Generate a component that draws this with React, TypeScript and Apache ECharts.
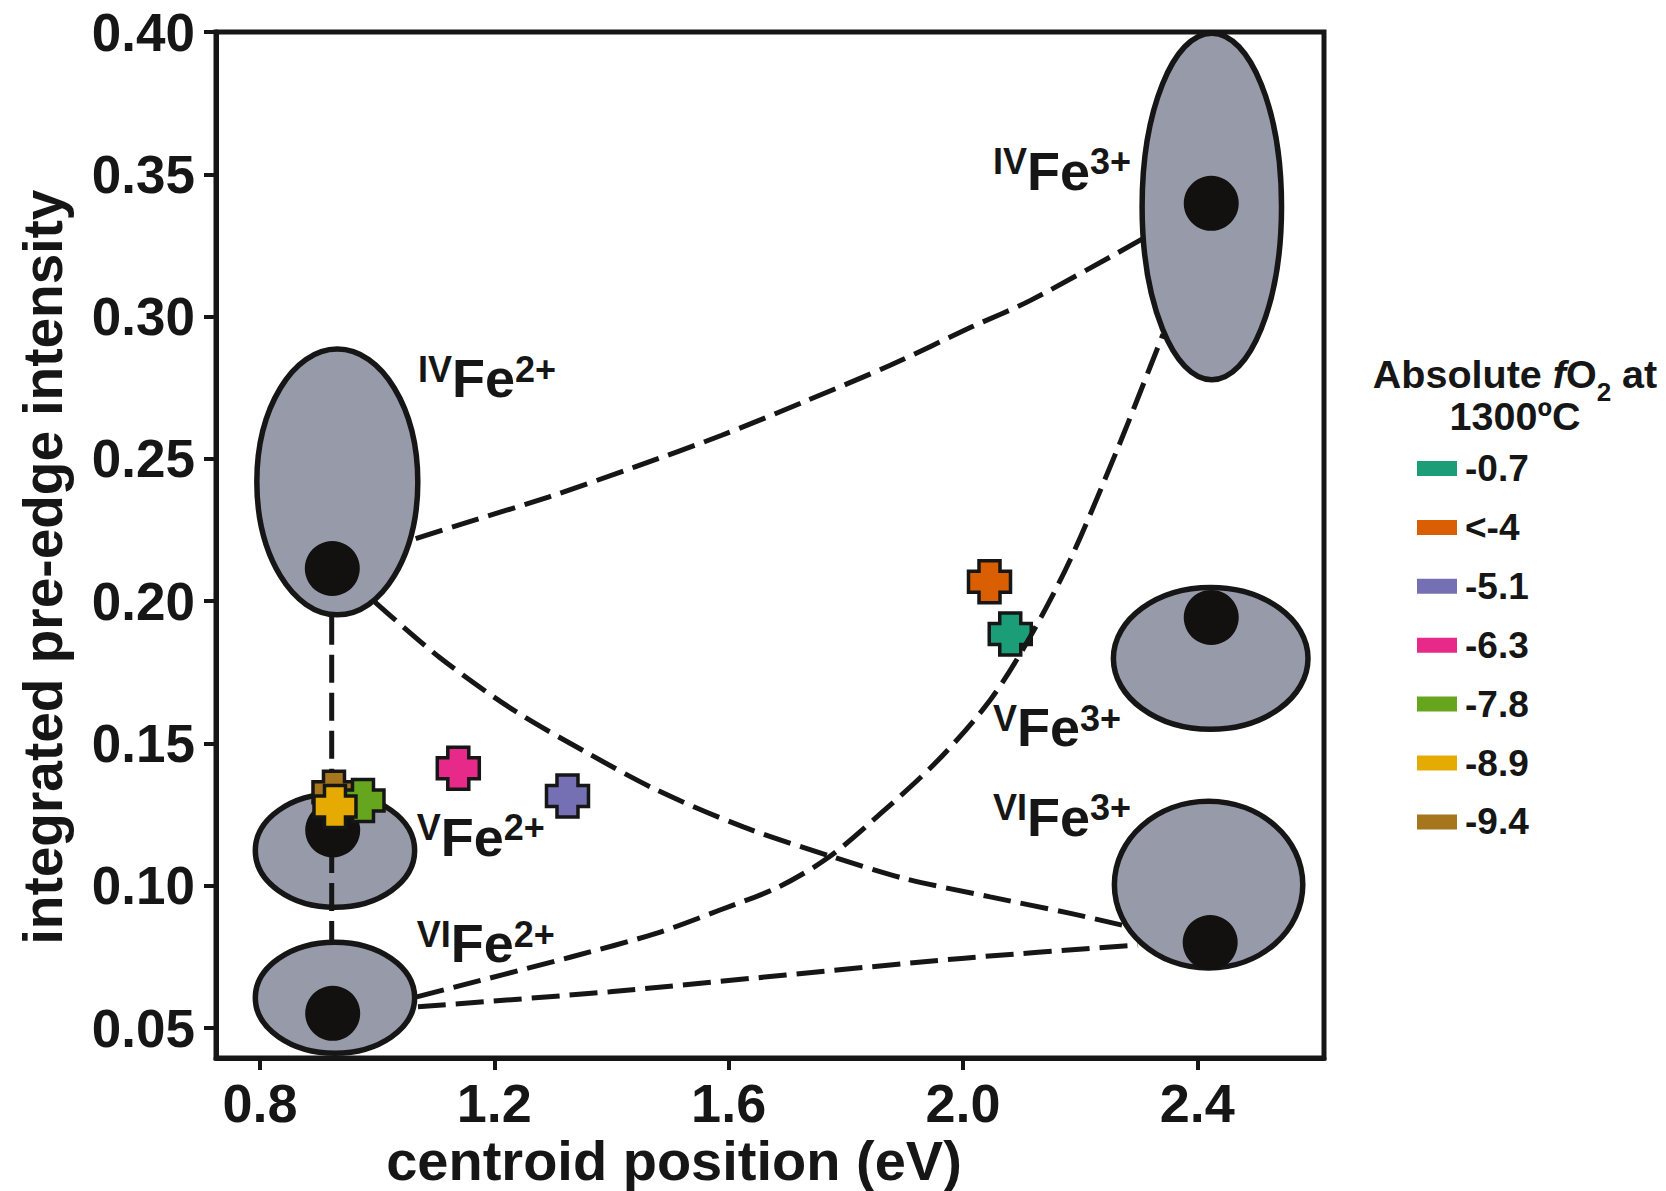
import React, { useEffect, useRef } from 'react';
import * as echarts from 'echarts';

const FONT = '"Liberation Sans", Arial, Helvetica, sans-serif';
const INK = '#161616';
const FIELD = '#979aa9';

// Axes
const xTicks = [0.8, 1.2, 1.6, 2.0, 2.4];
const yTicks = [0.05, 0.1, 0.15, 0.2, 0.25, 0.3, 0.35, 0.4];
const xRange = [0.7249, 2.6163];
const yRange = [0.0395, 0.4];

// Reference Fe sites (fields drawn as ellipses in data units)
const siteNames = ['IVFe2+', 'VFe2+', 'VIFe2+', 'IVFe3+', 'VFe3+', 'VIFe3+'];
const siteCoordination = ['IV', 'V', 'VI', 'IV', 'V', 'VI'];
const siteCharge = ['2+', '2+', '2+', '3+', '3+', '3+'];
const fieldCenterX = [0.932, 0.928, 0.928, 2.4248, 2.4229, 2.4193];
const fieldCenterY = [0.2419, 0.1124, 0.0607, 0.3387, 0.1799, 0.1004];
const fieldRadiusX = [0.1374, 0.136, 0.136, 0.119, 0.1661, 0.1608];
const fieldRadiusY = [0.0467, 0.01995, 0.0195, 0.0609, 0.0249, 0.0293];
const centroidX = [0.9234, 0.9241, 0.9241, 2.4238, 2.4238, 2.422];
const centroidY = [0.2115, 0.1196, 0.0552, 0.3398, 0.1943, 0.0801];
const labelX = [1.0697, 1.0675, 1.0675, 2.0513, 2.0513, 2.0513];
const labelY = [0.2783, 0.1172, 0.0799, 0.3512, 0.1558, 0.1242];

// Dashed mixing curves [centroid, intensity]
const curveIV2toIV3 = [
  [1.0658, 0.222], [1.1441, 0.2271], [1.2923, 0.2366], [1.4402, 0.2472], [1.5883, 0.2583],
  [1.7278, 0.27], [1.8758, 0.2829], [2.0151, 0.2964], [2.1153, 0.3057], [2.3056, 0.3272],
];
const curveIV2toVI3 = [
  [0.9963, 0.1997], [1.1056, 0.1804], [1.2331, 0.1617], [1.3604, 0.1465], [1.478, 0.1336],
  [1.625, 0.1207], [1.777, 0.1102], [1.8994, 0.1026], [2.0465, 0.0961], [2.1836, 0.0903], [2.2715, 0.0862],
];
const curveIV2toVI2 = [[0.9224, 0.1945], [0.9224, 0.0809]];
const curveVI2toIV3 = [
  [1.0675, 0.061], [1.3309, 0.075], [1.4777, 0.0834], [1.5852, 0.0915], [1.6843, 0.0995],
  [1.7713, 0.1101], [1.8601, 0.1255], [1.9574, 0.1441], [2.0462, 0.1652], [2.1144, 0.1874],
  [2.1827, 0.2144], [2.263, 0.2531], [2.3193, 0.2822], [2.3415, 0.2938],
];
const curveVI2toVI3 = [[1.0697, 0.0575], [1.3975, 0.0628], [1.9975, 0.0745], [2.2988, 0.0792]];

// Samples
const fO2Labels = ['-0.7', '<-4', '-5.1', '-6.3', '-7.8', '-8.9', '-9.4'];
const fO2Colors = ['#1b9e77', '#d95f02', '#7570b3', '#e7298a', '#66a61e', '#e6ab02', '#a6761d'];
const sampleCentroid = [2.0807, 2.0453, 1.3249, 1.1385, 0.9758, 0.928, 0.9263];
const sampleIntensity = [0.1885, 0.2068, 0.1316, 0.1413, 0.13, 0.1279, 0.1329];
const sampleLayer = [2, 6, 6, 6, 7, 8, 6];

const CROSS = 'path://M1,0H3V1H4V3H3V4H1V3H0V1H1Z';

function buildOption(): any {
  const curves = [
    { name: 'IVFe2+ - IVFe3+', data: curveIV2toIV3 },
    { name: 'IVFe2+ - VIFe3+', data: curveIV2toVI3 },
    { name: 'IVFe2+ - VIFe2+', data: curveIV2toVI2 },
    { name: 'VIFe2+ - IVFe3+', data: curveVI2toIV3 },
    { name: 'VIFe2+ - VIFe3+', data: curveVI2toVI3 },
  ];
  const axisText = { color: INK, fontFamily: FONT, fontWeight: 'bold' };
  return {
    animation: false,
    backgroundColor: '#ffffff',
    grid: {
      left: 216, right: 342, top: 32, bottom: 133,
      show: true, borderColor: INK, borderWidth: 5, backgroundColor: 'transparent',
    },
    xAxis: {
      type: 'value', min: xRange[0], max: xRange[1],
      axisLine: { show: true, lineStyle: { color: INK, width: 5 } },
      axisTick: { show: true, customValues: xTicks, length: 12, lineStyle: { color: INK, width: 4 } },
      axisLabel: { customValues: xTicks, formatter: (v: number) => v.toFixed(1), fontSize: 54, margin: 18, ...axisText },
      splitLine: { show: false },
    },
    yAxis: {
      type: 'value', min: yRange[0], max: yRange[1],
      axisLine: { show: true, lineStyle: { color: INK, width: 5 } },
      axisTick: { show: true, customValues: yTicks, length: 12, lineStyle: { color: INK, width: 4 } },
      axisLabel: { customValues: yTicks, formatter: (v: number) => v.toFixed(2), fontSize: 53, margin: 21, ...axisText },
      splitLine: { show: false },
    },
    legend: {
      orient: 'vertical', left: 1417, top: 450, padding: 0,
      itemWidth: 40, itemHeight: 15, itemGap: 21.9,
      selectedMode: false,
      icon: 'rect',
      itemStyle: { borderWidth: 0, opacity: 1 },
      data: fO2Labels.map((n) => ({ name: n, icon: 'rect' })),
      textStyle: { fontSize: 37, ...axisText, padding: [0, 0, 0, 3] },
    },
    graphic: [
      {
        type: 'text', x: 674, y: 1160, silent: true,
        style: { text: 'centroid position (eV)', fill: INK, fontSize: 56, fontWeight: 'bold', fontFamily: FONT, align: 'center', verticalAlign: 'middle' },
      },
      {
        type: 'text', x: 43, y: 567, rotation: Math.PI / 2, silent: true,
        style: { text: 'integrated pre-edge intensity', fill: INK, fontSize: 55, fontWeight: 'bold', fontFamily: FONT, align: 'center', verticalAlign: 'middle' },
      },
      {
        type: 'text', x: 1515, y: 354, silent: true,
        style: {
          text: '{a|Absolute }{i|f}{a|O}{s|2}{a| at}', fill: INK, align: 'center', verticalAlign: 'top',
          rich: {
            a: { fontSize: 39.5, fontWeight: 'bold', fontFamily: FONT, fill: INK, lineHeight: 40 },
            i: { fontSize: 39.5, fontWeight: 'bold', fontStyle: 'italic', fontFamily: FONT, fill: INK, lineHeight: 40 },
            s: { fontSize: 26, fontWeight: 'bold', fontFamily: FONT, fill: INK, lineHeight: 24, verticalAlign: 'top', padding: [25, 0, 0, 0] },
          },
        },
      },
      {
        type: 'text', x: 1515, y: 416, silent: true,
        style: { text: '1300ºC', fill: INK, fontSize: 39.5, fontWeight: 'bold', fontFamily: FONT, align: 'center', verticalAlign: 'middle' },
      },
    ],
    series: [
      {
        type: 'custom', name: 'fields', z: 1, silent: true, clip: false,
        data: siteNames.map((_, i) => [fieldCenterX[i], fieldCenterY[i], fieldRadiusX[i], fieldRadiusY[i]]),
        encode: { x: 0, y: 1 },
        renderItem: (_p: any, api: any) => {
          const c = api.coord([api.value(0), api.value(1)]);
          const s = api.size([api.value(2), api.value(3)]);
          return {
            type: 'ellipse',
            shape: { cx: c[0], cy: c[1], rx: s[0], ry: s[1] },
            style: { fill: FIELD, stroke: INK, lineWidth: 5.5 },
          };
        },
      },
      ...curves.map((c) => ({
        type: 'line', name: c.name, data: c.data, z: 3, silent: true,
        smooth: 0.3, symbol: 'none', showSymbol: false,
        lineStyle: { color: INK, width: 5, type: [28, 10], opacity: 1 },
      })),
      {
        type: 'scatter', name: 'centroids', z: 4, silent: true,
        data: siteNames.map((_, i) => [centroidX[i], centroidY[i]]),
        symbol: 'circle', symbolSize: 55,
        itemStyle: { color: '#121110', opacity: 1 },
      },
      {
        type: 'custom', name: 'site labels', z: 5, silent: true, clip: false,
        data: siteNames.map((_, i) => [labelX[i], labelY[i]]),
        encode: { x: 0, y: 1 },
        renderItem: (p: any, api: any) => {
          const c = api.coord([api.value(0), api.value(1)]);
          const i = p.dataIndex;
          return {
            type: 'text', x: c[0], y: c[1],
            style: {
              text: `{sup|${siteCoordination[i]}}{main|Fe}{sup|${siteCharge[i]}}`,
              align: 'left', verticalAlign: 'middle', fill: INK,
              rich: {
                main: { fontSize: 54, fontWeight: 'bold', fontFamily: FONT, fill: INK, lineHeight: 54 },
                sup: { fontSize: 36, fontWeight: 'bold', fontFamily: FONT, fill: INK, lineHeight: 36, verticalAlign: 'top' },
              },
            },
          };
        },
      },
      ...fO2Labels.map((n, i) => ({
        type: 'scatter', name: n, z: sampleLayer[i],
        data: [[sampleCentroid[i], sampleIntensity[i]]],
        symbol: CROSS, symbolSize: 42,
        itemStyle: { color: fO2Colors[i], borderColor: INK, borderWidth: 3.5, opacity: 1 },
      })),
    ],
  };
}

export default function App() {
  const ref = useRef<HTMLDivElement>(null);
  useEffect(() => {
    if (!ref.current) return;
    const chart = echarts.init(ref.current, undefined, { renderer: 'svg' });
    chart.setOption(buildOption());
    return () => chart.dispose();
  }, []);
  return (
    <div
      ref={ref}
      style={{ position: 'absolute', left: 0, top: 0, width: 1666, height: 1191, background: '#ffffff' }}
    />
  );
}
